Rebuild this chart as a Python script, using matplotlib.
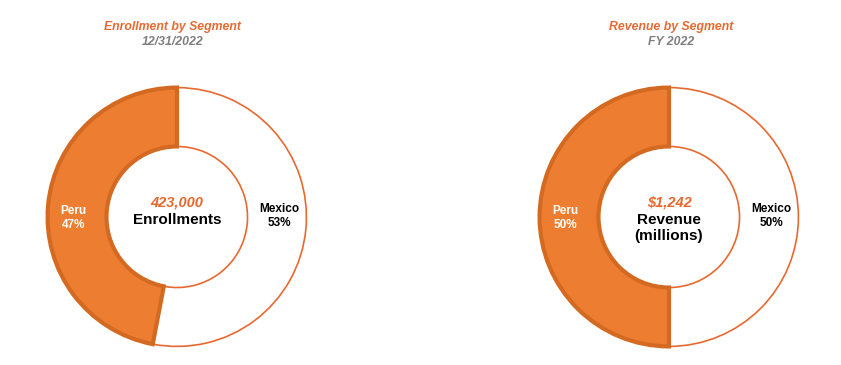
"""Enrollment and revenue split by segment as two donuts"""

import matplotlib.pyplot as plt

plt.rcParams['font.family'] = ['Liberation Sans', 'DejaVu Sans']

segments = ["Mexico", "Peru"]
enroll_share = [53, 47]
revenue_share = [50, 50]
enroll_total = "423,000"
revenue_total = "$1,242"

ORANGE = "#ED7D31"
ORANGE_EDGE = "#D46A22"
TITLE_ORANGE = "#E8692F"
GREY = "#7F7F7F"

W, H = 841, 365
fig = plt.figure(figsize=(W / 100, H / 100), dpi=100)


def donut(cx, cy, r, shares, title, subtitle, total, center_lines, title_x):
    ax = fig.add_axes([(cx - r) / W, (H - cy - r) / H, 2 * r / W, 2 * r / H])
    wedges, _ = ax.pie(shares, startangle=90, counterclock=False, radius=1,
                       colors=["white", ORANGE],
                       wedgeprops=dict(width=0.455, linewidth=1.2))
    wedges[0].set_edgecolor(TITLE_ORANGE)
    wedges[1].set_edgecolor(ORANGE_EDGE)
    wedges[1].set_linewidth(3)
    ax.set_xlim(-1.02, 1.02)
    ax.set_ylim(-1.02, 1.02)
    ax.set_aspect("equal")
    ax.axis("off")

    # segment labels sit in the middle of the ring
    ax.text(0.79, 0.01, f"{segments[0]}\n{shares[0]}%", ha="center", va="center",
            fontsize=8.5, fontweight="bold", color="black", linespacing=1.25)
    ax.text(-0.8, -0.01, f"{segments[1]}\n{shares[1]}%", ha="center", va="center",
            fontsize=8.5, fontweight="bold", color="white", linespacing=1.25)

    ax.text(0, 0.11, total, ha="center", va="center", fontsize=10.5,
            fontweight="bold", fontstyle="italic", color=TITLE_ORANGE)
    for i, line in enumerate(center_lines):
        ax.text(0, -0.02 - 0.125 * i, line, ha="center", va="center",
                fontsize=11, fontweight="bold", color="black")

    fig.text(title_x / W, 1 - 27 / H, title, ha="center", va="center", fontsize=8.8,
             fontweight="bold", fontstyle="italic", color=TITLE_ORANGE)
    fig.text(title_x / W, 1 - 42 / H, subtitle, ha="center", va="center", fontsize=8.8,
             fontweight="bold", fontstyle="italic", color=GREY)


donut(177, 217, 132, enroll_share, "Enrollment by Segment", "12/31/2022",
      enroll_total, ["Enrollments"], 173)
donut(669, 217, 132, revenue_share, "Revenue by Segment", "FY 2022",
      revenue_total, ["Revenue", "(millions)"], 671)

fig.savefig("out.png", dpi=100, facecolor="white")
